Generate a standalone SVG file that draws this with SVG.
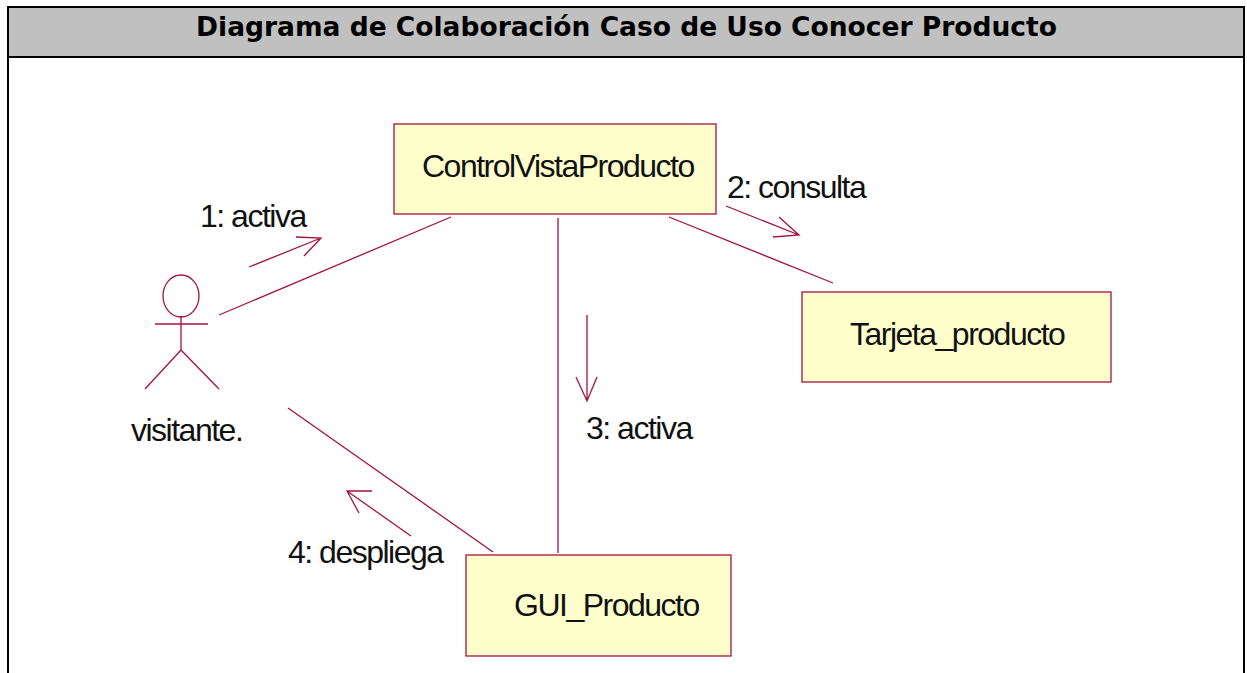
<svg xmlns="http://www.w3.org/2000/svg" width="1247" height="673" viewBox="0 0 1247 673">
<style>
.l{stroke:#a5123f;stroke-width:1.3;fill:none}
.n{fill:#ffffcc;stroke:#a5123f;stroke-width:1.3}
.t{font-family:"Liberation Sans",Arial,sans-serif;font-size:32px;letter-spacing:-1.5px;fill:#111}
.f{stroke:#000;stroke-width:2;fill:none}
</style>
<rect width="1247" height="673" fill="#fff"/>
<g id="frame">
<rect x="8" y="7" width="1236" height="50" fill="#c0c0c0"/>
<path class="f" d="M8 673V7H1244V673M8 57H1244"/>
<text x="626.5" y="36" text-anchor="middle" font-family="'DejaVu Sans',Verdana,sans-serif" font-size="26.5" font-weight="bold" fill="#000">Diagrama de Colaboración Caso de Uso Conocer Producto</text>
</g>
<g id="connectors">
<path class="l" d="M219 315L451 217M288 408L493 552M558 218V553M669 217L833 283"/>
<path class="l" d="M249 267L321 238M296 237L321 238L304 256"/>
<path class="l" d="M726 206L799 235M779 217L799 235L773 237"/>
<path class="l" d="M587 315V401M576 377L587 401L597 377"/>
<path class="l" d="M411 536L347 491M372 491L347 491L359 513"/>
<text class="t" x="200" y="227">1: activa</text>
<text class="t" x="727" y="198">2: consulta</text>
<text class="t" x="586" y="439">3: activa</text>
<text class="t" x="288" y="563">4: despliega</text>
</g>
<g id="actor">
<ellipse class="l" cx="181" cy="296" rx="18" ry="21"/>
<path class="l" d="M155 324H208M181 316V350M145 389L181 350L219 389"/>
<text class="t" x="131" y="441">visitante.</text>
</g>
<g id="control">
<rect class="n" x="394" y="124" width="322" height="90"/>
<text class="t" x="422" y="177">ControlVistaProducto</text>
</g>
<g id="tarjeta">
<rect class="n" x="802" y="292" width="309" height="90"/>
<text class="t" x="850" y="345">Tarjeta_producto</text>
</g>
<g id="gui">
<rect class="n" x="466" y="555" width="265" height="101"/>
<text class="t" x="514" y="616">GUI_Producto</text>
</g>
</svg>
